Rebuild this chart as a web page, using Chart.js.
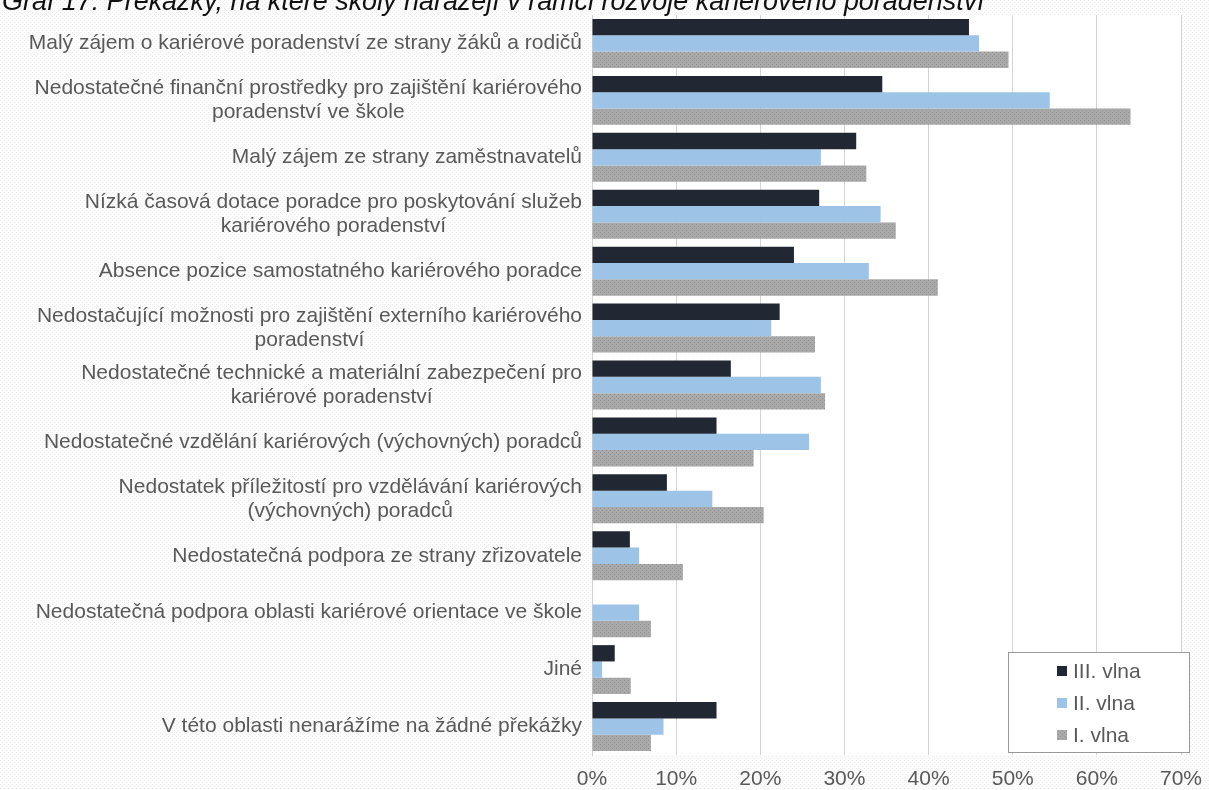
<!DOCTYPE html>
<html>
<head>
<meta charset="utf-8">
<script src="https://cdn.jsdelivr.net/npm/chart.js@4.4.1/dist/chart.umd.min.js"></script>
<style>
html,body{margin:0;padding:0;width:1209px;height:790px;overflow:hidden;background:#fff}
#wrap{position:relative;width:1209px;height:790px}
#c{position:absolute;left:0;top:0}
#title{position:absolute;left:2px;top:-9px;font-family:"Liberation Sans",Arial,sans-serif;font-style:italic;font-size:24px;line-height:24px;color:#111;white-space:nowrap}
</style>
</head>
<body>
<div id="wrap">
<canvas id="c" width="1209" height="790"></canvas>
<div id="title">Graf 17: Překážky, na které školy narážejí v rámci rozvoje kariérového poradenství</div>
</div>
<script>
// ---- data ----
const categories = [
  "Malý zájem o kariérové poradenství ze strany žáků a rodičů",
  ["Nedostatečné finanční prostředky pro zajištění kariérového", "poradenství ve škole"],
  "Malý zájem ze strany zaměstnavatelů",
  ["Nízká časová dotace poradce pro poskytování služeb", "kariérového poradenství"],
  "Absence pozice samostatného kariérového poradce",
  ["Nedostačující možnosti pro zajištění externího kariérového", "poradenství"],
  ["Nedostatečné technické a materiální zabezpečení pro", "kariérové poradenství"],
  "Nedostatečné vzdělání kariérových (výchovných) poradců",
  ["Nedostatek příležitostí pro vzdělávání kariérových", "(výchovných) poradců"],
  "Nedostatečná podpora ze strany zřizovatele",
  "Nedostatečná podpora oblasti kariérové orientace ve škole",
  "Jiné",
  "V této oblasti nenarážíme na žádné překážky"
];
const seriesNames = ["III. vlna", "II. vlna", "I. vlna"];
const wave3 = [44.8, 34.5, 31.4, 27.0, 24.0, 22.3, 16.5, 14.8, 8.9, 4.5, 0, 2.7, 14.8];
const wave2 = [46.0, 54.4, 27.2, 34.3, 32.9, 21.3, 27.2, 25.8, 14.3, 5.6, 5.6, 1.2, 8.5];
const wave1 = [49.5, 64.0, 32.6, 36.1, 41.1, 26.5, 27.7, 19.2, 20.4, 10.8, 7.0, 4.6, 7.0];
const xMin = 0, xMax = 70, xStep = 10;

// ---- title fit ----
(function(){
  const t = document.getElementById('title');
  const w = t.offsetWidth;
  const fs = 24 * 983 / w;
  t.style.fontSize = fs + 'px';
  t.style.lineHeight = fs + 'px';
  t.style.top = (11 - 0.8465 * fs) + 'px';
})();

const canvas = document.getElementById('c');
const ctx0 = canvas.getContext('2d');

function makePattern(base, dot, size, dots){
  const p = document.createElement('canvas');
  p.width = size; p.height = size;
  const g = p.getContext('2d');
  g.fillStyle = base; g.fillRect(0,0,size,size);
  g.fillStyle = dot;
  dots.forEach(d => g.fillRect(d[0], d[1], 1, 1));
  return ctx0.createPattern(p, 'repeat');
}
const grayPattern = makePattern('#a9a9a9', '#939393', 4, [[0,0],[2,2]]);
const bgPattern = makePattern('#fcfcfc', '#ebebeb', 4, [[0,0],[2,2]]);
const colors = ['#212833', '#9dc3e6', grayPattern];
const TEXT = '#595959';
const FONT = '"Liberation Sans", Arial, sans-serif';

const bgPlugin = {
  id: 'bg',
  beforeDraw(chart){
    const {ctx, chartArea: a} = chart;
    ctx.save();
    ctx.fillStyle = bgPattern;
    ctx.fillRect(0, 0, chart.width, chart.height);
    ctx.fillStyle = '#ffffff';
    ctx.fillRect(a.left, a.top, a.right - a.left, a.bottom - a.top);
    ctx.restore();
  }
};

const yLabelPlugin = {
  id: 'ylabels',
  afterDraw(chart){
    const s = chart.scales.y;
    const ctx = chart.ctx;
    ctx.save();
    ctx.font = '21px ' + FONT;
    ctx.fillStyle = TEXT;
    ctx.textBaseline = 'middle';
    ctx.textAlign = 'center';
    const right = s.right - 10;
    chart.data.labels.forEach((lab, i) => {
      const y = s.getPixelForTick(i);
      const lines = [].concat(lab);
      const w = Math.max(...lines.map(l => ctx.measureText(l).width));
      const cx = right - w / 2;
      lines.forEach((l, j) => {
        ctx.fillText(l, cx, y + (j - (lines.length - 1) / 2) * 24);
      });
    });
    ctx.restore();
  }
};

const legendPlugin = {
  id: 'boxlegend',
  afterDraw(chart){
    const ctx = chart.ctx;
    const a = chart.chartArea;
    const L = a.right - 173, T = a.bottom - 103, W = 181, H = 100;
    ctx.save();
    ctx.fillStyle = '#ffffff';
    ctx.fillRect(L, T, W, H);
    ctx.strokeStyle = '#9a9a9a';
    ctx.lineWidth = 1;
    ctx.strokeRect(L + 0.5, T + 0.5, W, H);
    ctx.font = '21px ' + FONT;
    ctx.textBaseline = 'middle';
    ctx.textAlign = 'left';
    chart.data.datasets.forEach((ds, i) => {
      const cy = T + 19 + i * 32;
      ctx.fillStyle = ds.backgroundColor;
      ctx.fillRect(L + 49, cy - 5, 10, 10);
      ctx.fillStyle = TEXT;
      ctx.fillText(ds.label, L + 65, cy + 1);
    });
    ctx.restore();
  }
};

new Chart(canvas, {
  type: 'bar',
  data: {
    labels: categories,
    datasets: [
      { label: seriesNames[0], data: wave3, backgroundColor: colors[0] },
      { label: seriesNames[1], data: wave2, backgroundColor: colors[1] },
      { label: seriesNames[2], data: wave1, backgroundColor: colors[2] }
    ]
  },
  options: {
    indexAxis: 'y',
    responsive: false,
    animation: false,
    devicePixelRatio: 1,
    layout: { padding: { top: 15, right: 28, left: 0, bottom: 0 } },
    datasets: { bar: { categoryPercentage: 0.86, barPercentage: 1.0, borderWidth: 0 } },
    plugins: { legend: { display: false }, tooltip: { enabled: false }, title: { display: false } },
    scales: {
      x: {
        min: xMin, max: xMax,
        grid: { color: '#d4d4d4', lineWidth: 1, drawTicks: false },
        border: { display: false },
        ticks: {
          stepSize: xStep, padding: 12, color: TEXT,
          font: { family: FONT, size: 21 },
          callback: v => v + '%'
        },
        afterFit: s => { s.height = 35; s.paddingLeft = 0; s.paddingRight = 0; }
      },
      y: {
        grid: { display: false, drawTicks: false },
        border: { display: true, color: '#d4d4d4', width: 1 },
        ticks: { display: false },
        afterFit: s => { s.width = 592; }
      }
    }
  },
  plugins: [bgPlugin, yLabelPlugin, legendPlugin]
});
</script>
</body>
</html>
